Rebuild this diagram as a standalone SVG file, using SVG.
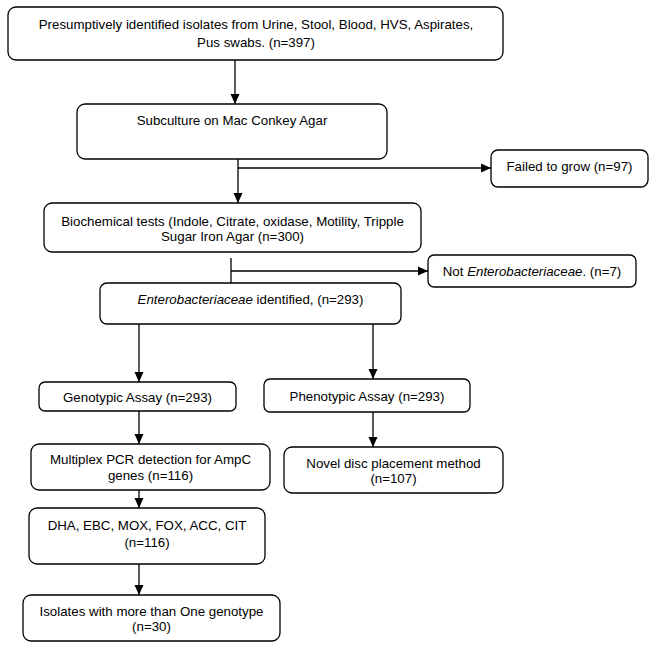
<svg xmlns="http://www.w3.org/2000/svg" width="657" height="649" viewBox="0 0 657 649">
<defs>
<marker id="ah" markerUnits="userSpaceOnUse" markerWidth="10" markerHeight="10" refX="10" refY="5" orient="auto">
<path d="M0,0.5 L10,5 L0,9.5 z" fill="#000"/>
</marker>
<style>
.box{fill:#fff;stroke:#000;stroke-width:1.3}
.t{font-family:"Liberation Sans",Arial,sans-serif;font-size:13.3px;fill:#000;text-anchor:middle}
.c{fill:none;stroke:#000;stroke-width:1.3}
.a{marker-end:url(#ah)}
</style>
</defs>
<rect width="657" height="649" fill="#fff"/>
<g id="connectors">
<line class="c a" x1="235" y1="60" x2="235" y2="104"/>
<line class="c a" x1="238" y1="159" x2="238" y2="203"/>
<line class="c a" x1="238" y1="168" x2="491" y2="168"/>
<line class="c" x1="231" y1="258" x2="231" y2="283"/>
<line class="c a" x1="231" y1="271" x2="428" y2="271"/>
<line class="c a" x1="139" y1="324" x2="139" y2="382"/>
<line class="c a" x1="373" y1="324" x2="373" y2="379"/>
<line class="c a" x1="139" y1="411" x2="139" y2="444"/>
<line class="c a" x1="373" y1="412" x2="373" y2="447"/>
<line class="c a" x1="139" y1="490" x2="139" y2="508"/>
<line class="c a" x1="139" y1="564" x2="139" y2="595"/>
</g>
<g id="n1">
<rect class="box" x="8" y="7" width="495" height="53" rx="8"/>
<text class="t" x="256" y="29">Presumptively identified isolates from Urine, Stool, Blood, HVS, Aspirates,</text>
<text class="t" x="256" y="47">Pus swabs. (n=397)</text>
</g>
<g id="n2">
<rect class="box" x="77" y="104" width="310" height="55" rx="8"/>
<text class="t" x="232" y="125">Subculture on Mac Conkey Agar</text>
</g>
<g id="n3">
<rect class="box" x="491" y="150" width="157" height="37" rx="7"/>
<text class="t" x="569.5" y="171">Failed to grow (n=97)</text>
</g>
<g id="n4">
<rect class="box" x="44" y="203" width="377" height="49" rx="8"/>
<text class="t" x="232.5" y="226">Biochemical tests (Indole, Citrate, oxidase, Motility, Tripple</text>
<text class="t" x="232.5" y="241">Sugar Iron Agar (n=300)</text>
</g>
<g id="n5">
<rect class="box" x="428" y="255" width="208" height="32" rx="6"/>
<text class="t" x="532" y="276">Not <tspan font-style="italic">Enterobacteriaceae</tspan>. (n=7)</text>
</g>
<g id="n6">
<rect class="box" x="100" y="283" width="301" height="41" rx="7"/>
<text class="t" x="250.5" y="304"><tspan font-style="italic">Enterobacteriaceae</tspan> identified, (n=293)</text>
</g>
<g id="n7">
<rect class="box" x="39" y="382" width="197" height="29" rx="6"/>
<text class="t" x="137.5" y="402">Genotypic Assay (n=293)</text>
</g>
<g id="n8">
<rect class="box" x="264" y="379" width="206" height="33" rx="6"/>
<text class="t" x="367" y="401">Phenotypic Assay (n=293)</text>
</g>
<g id="n9">
<rect class="box" x="31" y="444" width="239" height="46" rx="8"/>
<text class="t" x="150.5" y="464">Multiplex PCR detection for AmpC</text>
<text class="t" x="150.5" y="480">genes (n=116)</text>
</g>
<g id="n10">
<rect class="box" x="284" y="447" width="219" height="46" rx="8"/>
<text class="t" x="393.5" y="468">Novel disc placement method</text>
<text class="t" x="393.5" y="483">(n=107)</text>
</g>
<g id="n11">
<rect class="box" x="29" y="508" width="236" height="56" rx="8"/>
<text class="t" x="147" y="530">DHA, EBC, MOX, FOX, ACC, CIT</text>
<text class="t" x="147" y="547">(n=116)</text>
</g>
<g id="n12">
<rect class="box" x="23" y="595" width="257" height="46" rx="8"/>
<text class="t" x="151.5" y="616">Isolates with more than One genotype</text>
<text class="t" x="151.5" y="631">(n=30)</text>
</g>
</svg>
